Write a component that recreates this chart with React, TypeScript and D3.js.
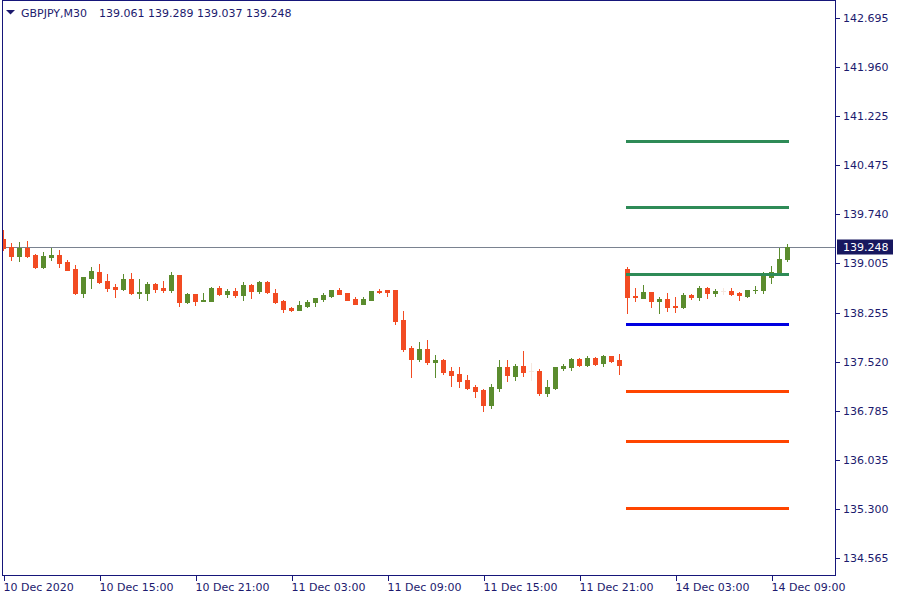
import React from "react";
import * as d3 from "d3";

// ---- Data ----
const symbolTitle = "GBPJPY,M30";
const ohlcTitle = "139.061 139.289 139.037 139.248";
const lastPrice = 139.248;

// OHLC per M30 bar, 10 Dec 09:00 .. 11 Dec 23:30, 14 Dec 00:00 .. 10:00
const opens = [
  139.367, 139.247, 139.116, 139.236, 139.127, 138.946, 139.101, 139.127, 139.021, 138.916,
  138.559, 138.785, 138.871, 138.735, 138.645, 138.615, 138.765, 138.559, 138.559, 138.690,
  138.630, 138.600, 138.825, 138.423, 138.539, 138.436, 138.438, 138.630, 138.544, 138.585,
  138.529, 138.675, 138.589, 138.720, 138.554, 138.434, 138.329, 138.298, 138.359, 138.419,
  138.464, 138.509, 138.600, 138.554, 138.464, 138.393, 138.454, 138.585, 138.600, 138.600,
  138.148, 137.726, 137.561, 137.711, 137.516, 137.546, 137.380, 137.335, 137.245, 137.139,
  137.094, 136.868, 137.124, 137.440, 137.305, 137.455, 137.380, 137.380, 137.049, 137.124,
  137.425, 137.440, 137.561, 137.470, 137.576, 137.500, 137.606, 137.546, 138.916, 138.514,
  138.484, 138.569, 138.438, 138.464, 138.359, 138.348, 138.524, 138.499, 138.630, 138.559,
  138.585, 138.585, 138.559, 138.514, 138.600, 138.600, 138.800, 138.860, 139.061,
];
const highs = [
  139.503, 139.303, 139.322, 139.337, 139.142, 139.172, 139.236, 139.202, 139.051, 138.976,
  138.795, 138.946, 138.996, 138.840, 138.690, 138.840, 138.856, 138.765, 138.720, 138.705,
  138.735, 138.871, 138.825, 138.554, 138.547, 138.554, 138.645, 138.660, 138.619, 138.634,
  138.720, 138.690, 138.740, 138.735, 138.615, 138.449, 138.344, 138.434, 138.449, 138.479,
  138.554, 138.600, 138.630, 138.554, 138.494, 138.494, 138.585, 138.615, 138.600, 138.600,
  138.283, 137.756, 137.817, 137.847, 137.621, 137.561, 137.440, 137.440, 137.320, 137.169,
  137.109, 137.184, 137.546, 137.546, 137.485, 137.681, 137.500, 137.410, 137.245, 137.440,
  137.485, 137.576, 137.576, 137.606, 137.591, 137.621, 137.606, 137.636, 138.946, 138.630,
  138.675, 138.569, 138.494, 138.554, 138.494, 138.554, 138.539, 138.660, 138.645, 138.615,
  138.630, 138.630, 138.569, 138.600, 138.660, 138.875, 138.961, 139.232, 139.289,
];
const lows = [
  139.202, 139.051, 139.041, 139.101, 138.935, 138.935, 139.056, 138.950, 138.896, 138.544,
  138.499, 138.634, 138.700, 138.589, 138.499, 138.600, 138.544, 138.484, 138.454, 138.574,
  138.574, 138.574, 138.363, 138.408, 138.378, 138.434, 138.438, 138.520, 138.499, 138.499,
  138.454, 138.484, 138.559, 138.559, 138.404, 138.273, 138.288, 138.298, 138.344, 138.359,
  138.438, 138.494, 138.544, 138.454, 138.393, 138.393, 138.454, 138.559, 138.514, 138.092,
  137.681, 137.290, 137.531, 137.485, 137.290, 137.335, 137.154, 137.139, 137.109, 136.989,
  136.778, 136.823, 137.079, 137.229, 137.245, 137.305, 137.245, 137.019, 137.004, 137.109,
  137.395, 137.395, 137.455, 137.455, 137.470, 137.455, 137.516, 137.335, 138.258, 138.438,
  138.484, 138.348, 138.258, 138.288, 138.273, 138.333, 138.460, 138.454, 138.484, 138.514,
  138.544, 138.529, 138.454, 138.499, 138.559, 138.559, 138.709, 138.845, 139.037,
];
const closes = [
  139.232, 139.116, 139.236, 139.107, 138.946, 139.116, 139.127, 139.006, 138.905, 138.559,
  138.795, 138.886, 138.720, 138.630, 138.619, 138.765, 138.559, 138.574, 138.690, 138.615,
  138.600, 138.825, 138.423, 138.539, 138.438, 138.446, 138.634, 138.544, 138.585, 138.529,
  138.675, 138.589, 138.720, 138.569, 138.419, 138.318, 138.303, 138.374, 138.419, 138.479,
  138.524, 138.600, 138.544, 138.454, 138.393, 138.464, 138.585, 138.574, 138.569, 138.137,
  137.711, 137.561, 137.711, 137.516, 137.546, 137.365, 137.320, 137.229, 137.124, 137.079,
  136.868, 137.139, 137.440, 137.320, 137.455, 137.365, 137.380, 137.049, 137.139, 137.440,
  137.455, 137.561, 137.470, 137.576, 137.485, 137.606, 137.531, 137.470, 138.499, 138.499,
  138.569, 138.438, 138.464, 138.348, 138.348, 138.524, 138.499, 138.630, 138.559, 138.585,
  138.585, 138.544, 138.520, 138.600, 138.604, 138.815, 138.875, 139.066, 139.248,
];

// Horizontal pivot levels (drawn over Monday's bars)
const resistanceLevels = [140.843, 139.849, 138.841];
const pivotLevel = 138.088;
const supportLevels = [137.079, 136.326, 135.318];
const levelStartBar = 78;
const levelEndBar = 98;

// Axis labels
const priceTicks = [
  142.695, 141.96, 141.225, 140.475, 139.74, 139.005, 138.255, 137.52, 136.785, 136.035, 135.3, 134.565,
];
const timeTickBars = [0, 12, 24, 36, 48, 60, 72, 84, 96];
const timeTickLabels = [
  "10 Dec 2020", "10 Dec 15:00", "10 Dec 21:00", "11 Dec 03:00", "11 Dec 09:00",
  "11 Dec 15:00", "11 Dec 21:00", "14 Dec 03:00", "14 Dec 09:00",
];

// ---- Styles ----
const W = 900;
const H = 600;
const FRAME = { left: 2.5, right: 835.5, top: 0.5, bottom: 575.5 };
const AXIS = "#16167a";
const TEXT = "#1c1a6e";
const UP = "#5b8c2e";
const DOWN = "#f24b22";
const DOJI = "#f6e8df";
const FONT = "'DejaVu Sans', Verdana, sans-serif";

export default function App() {
  const x = d3.scaleLinear().domain([0, opens.length - 1]).range([3.5, 3.5 + 8 * (opens.length - 1)]);
  const y = d3.scaleLinear().domain([134.565, 142.695]).range([558, 18]);
  const bodyW = 5;

  const candles = opens.map((o, i) => {
    const c = closes[i];
    const color = o === c ? DOJI : c > o ? UP : DOWN;
    const cx = x(i);
    const yTop = Math.round(y(Math.max(o, c)));
    const yBot = Math.round(y(Math.min(o, c)));
    const yH = Math.round(y(highs[i]));
    const yL = Math.round(y(lows[i]));
    return (
      <g key={i} fill={color}>
        <rect x={cx - 0.5} y={yH} width={1} height={Math.max(1, yL - yH + 1)} />
        <rect x={cx - bodyW / 2} y={yTop} width={bodyW} height={Math.max(1, yBot - yTop + 1)} />
      </g>
    );
  });

  const lx1 = x(levelStartBar) - 1.5;
  const lx2 = x(levelEndBar) + 1.5;
  const levelLine = (v: number, color: string, k: string) => (
    <line key={k} x1={lx1} x2={lx2} y1={Math.round(y(v)) + 0.5} y2={Math.round(y(v)) + 0.5} stroke={color} strokeWidth={2.5} />
  );

  const lastY = Math.round(y(lastPrice)) + 0.5;

  return (
    <svg
      width={W}
      height={H}
      style={{ position: "fixed", left: 0, top: 0, background: "#fff" }}
      fontFamily={FONT}
    >
      <rect x={0} y={0} width={W} height={H} fill="#fff" />
      <defs>
        <clipPath id="plot">
          <rect x={FRAME.left} y={FRAME.top} width={FRAME.right - FRAME.left} height={FRAME.bottom - FRAME.top} />
        </clipPath>
      </defs>

      <g clipPath="url(#plot)" shapeRendering="crispEdges">
        {/* current price line */}
        <line x1={FRAME.left} x2={FRAME.right} y1={lastY} y2={lastY} stroke="#7a8290" strokeWidth={1} />
        {candles}
      </g>

      <g shapeRendering="crispEdges">
        {resistanceLevels.map((v, i) => levelLine(v, "#2e8b57", "r" + i))}
        {levelLine(pivotLevel, "#0000e0", "p")}
        {supportLevels.map((v, i) => levelLine(v, "#ff4500", "s" + i))}
      </g>

      {/* frame */}
      <rect
        x={FRAME.left}
        y={FRAME.top}
        width={FRAME.right - FRAME.left}
        height={FRAME.bottom - FRAME.top}
        fill="none"
        stroke={AXIS}
        strokeWidth={1}
        shapeRendering="crispEdges"
      />

      {/* price axis */}
      <g fontSize={11} fill={TEXT}>
        {priceTicks.map((v) => {
          const ty = Math.round(y(v)) + 0.5;
          return (
            <g key={v}>
              <line x1={FRAME.right} x2={FRAME.right + 4} y1={ty} y2={ty} stroke={AXIS} shapeRendering="crispEdges" />
              <text x={843} y={ty} dy="0.36em">
                {v.toFixed(3)}
              </text>
            </g>
          );
        })}
      </g>

      {/* last price label */}
      <rect x={837} y={lastY - 8} width={56} height={15} fill="#17175f" />
      <text x={843} y={lastY} dy="0.36em" fontSize={11} fill="#fff">
        {lastPrice.toFixed(3)}
      </text>

      {/* time axis */}
      <g fontSize={11} fill={TEXT}>
        {timeTickBars.map((b, i) => {
          const tx = Math.round(x(b)) + 0.5;
          return (
            <g key={b}>
              <line x1={tx} x2={tx} y1={FRAME.bottom} y2={FRAME.bottom + 5} stroke={AXIS} shapeRendering="crispEdges" />
              <text x={tx - 1} y={591}>
                {timeTickLabels[i]}
              </text>
            </g>
          );
        })}
      </g>

      {/* title */}
      <path d={d3.line()([[6, 10], [15, 10], [10.5, 14.5]]) + "Z"} fill={TEXT} />
      <text x={21} y={17} fontSize={11} fill={TEXT}>
        {symbolTitle}
      </text>
      <text x={99} y={17} fontSize={11} fill={TEXT}>
        {ohlcTitle}
      </text>
    </svg>
  );
}
